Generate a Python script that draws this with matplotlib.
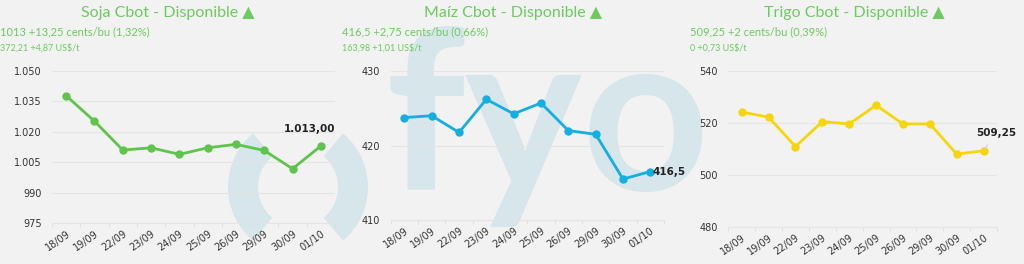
import matplotlib
matplotlib.use("Agg")
import matplotlib.pyplot as plt
from matplotlib.patches import Wedge

# ---------------- data ----------------
dates = ["18/09", "19/09", "22/09", "23/09", "24/09", "25/09", "26/09", "29/09", "30/09", "01/10"]
soja = [1037.7, 1025.2, 1011.0, 1012.1, 1008.9, 1012.1, 1013.8, 1010.8, 1001.8, 1013.0]
maiz = [423.75, 424.0, 421.75, 426.2, 424.25, 425.7, 422.0, 421.5, 415.5, 416.5]
trigo = [524.2, 522.2, 510.9, 520.5, 519.6, 526.8, 519.6, 519.6, 508.0, 509.25]

titles = ["Soja Cbot - Disponible ▲", "Maíz Cbot - Disponible ▲", "Trigo Cbot - Disponible ▲"]
line1 = ["1013 +13,25 cents/bu (1,32%)", "416,5 +2,75 cents/bu (0,66%)", "509,25 +2 cents/bu (0,39%)"]
line2 = ["372,21 +4,87 US$/t", "163,98 +1,01 US$/t", "0 +0,73 US$/t"]
last_labels = ["1.013,00", "416,5", "509,25"]

soja_ticks = [975, 990, 1005, 1020, 1035, 1050]
soja_ticklabels = ["975", "990", "1.005", "1.020", "1.035", "1.050"]
maiz_ticks = [410, 420, 430]
trigo_ticks = [480, 500, 520, 540]

W, H = 1024, 264
BG = "#f2f2f2"
GREEN_TXT = "#6ccb5f"
WM = "#d6e6ea"

fig = plt.figure(figsize=(W / 100, H / 100), dpi=100, facecolor=BG)

# background / watermark layer in pixel coordinates
bg = fig.add_axes([0, 0, 1, 1], zorder=0)
bg.set_xlim(0, W)
bg.set_ylim(H, 0)
bg.axis("off")
bg.set_facecolor(BG)
bg.add_patch(Wedge((298, 187), 70, 130, 230, width=30, facecolor=WM, edgecolor="none"))
bg.add_patch(Wedge((298, 187), 70, -50, 50, width=30, facecolor=WM, edgecolor="none"))
bg.text(386, 190, "fyo", fontsize=160, family="Lato", fontweight="bold", color=WM,
        ha="left", va="baseline")


def px_axes(left, right, top, bottom):
    return fig.add_axes([left / W, 1 - bottom / H, (right - left) / W, (bottom - top) / H], zorder=2)


def style(ax, ylim, ticks, ticklabels=None):
    ax.set_facecolor("none")
    ax.set_xlim(-0.5, len(dates) - 0.5)
    ax.set_ylim(*ylim)
    ax.set_yticks(ticks)
    if ticklabels:
        ax.set_yticklabels(ticklabels)
    ax.set_xticks(range(len(dates)))
    ax.set_xticklabels(dates, rotation=35, ha="right", rotation_mode="anchor")
    ax.set_xticks([i - 0.5 for i in range(len(dates) + 1)], minor=True)
    ax.tick_params(axis="x", which="major", length=0, labelsize=7, colors="#333333", pad=4)
    ax.tick_params(axis="x", which="minor", length=3, color="#dddddd")
    ax.tick_params(axis="y", length=0, labelsize=7, colors="#333333", pad=7.5)
    for lab in ax.get_xticklabels() + ax.get_yticklabels():
        lab.set_family("DejaVu Sans")
    ax.grid(axis="y", color="#e4e4e4", linewidth=0.8)
    for s in ["top", "right", "left"]:
        ax.spines[s].set_visible(False)
    ax.spines["bottom"].set_color("#e4e4e4")
    ax.set_axisbelow(True)


x = list(range(len(dates)))

# Soja
ax1 = px_axes(52, 335, 70.7, 223.3)
style(ax1, (975, 1050), soja_ticks, soja_ticklabels)
ax1.plot(x, soja, color="#5fc44c", lw=2, marker="o", ms=5, clip_on=False)
ax1.annotate(last_labels[0], (x[-1], soja[-1]), xytext=(-8, 12), textcoords="offset points",
             ha="center", va="center", fontsize=7.5, fontweight="bold", color="#222222",
             family="DejaVu Sans", annotation_clip=False)

# Maiz
ax2 = px_axes(390.7, 664, 71, 220)
style(ax2, (410, 430), maiz_ticks)
ax2.plot(x, maiz, color="#14aee0", lw=2, marker="o", ms=5, clip_on=False)
ax2.annotate(last_labels[1], (x[-1], maiz[-1]), xytext=(1.5, 0), textcoords="offset points",
             ha="left", va="center", fontsize=7.5, fontweight="bold", color="#222222",
             family="DejaVu Sans", annotation_clip=False)

# Trigo
ax3 = px_axes(728.3, 997, 71, 226.7)
style(ax3, (480, 540), trigo_ticks)
ax3.plot(x, trigo, color="#f7d50c", lw=2, marker="o", ms=5, clip_on=False)
ax3.annotate(last_labels[2], (x[-1], trigo[-1]), xytext=(9, 13), textcoords="offset points",
             ha="center", va="center", fontsize=7.5, fontweight="bold", color="#222222",
             family="DejaVu Sans", annotation_clip=False,
             arrowprops=dict(arrowstyle="-", color="#cccccc", lw=0.8, shrinkA=4, shrinkB=1))

# Headers
title_cx = [168, 513, 854]
sub_x = [0, 342, 690]
for i in range(3):
    fig.text(title_cx[i] / W, 1 - 13 / H, titles[i], ha="center", va="center", fontsize=11.5,
             color=GREEN_TXT, family=["Lato", "DejaVu Sans"])
    fig.text(sub_x[i] / W, 1 - 32 / H, line1[i], ha="left", va="center", fontsize=8,
             color=GREEN_TXT, family=["Lato", "DejaVu Sans"])
    fig.text(sub_x[i] / W, 1 - 48 / H, line2[i], ha="left", va="center", fontsize=6.5,
             color=GREEN_TXT, family=["Lato", "DejaVu Sans"])

fig.savefig("out.png", dpi=100, facecolor=BG)
